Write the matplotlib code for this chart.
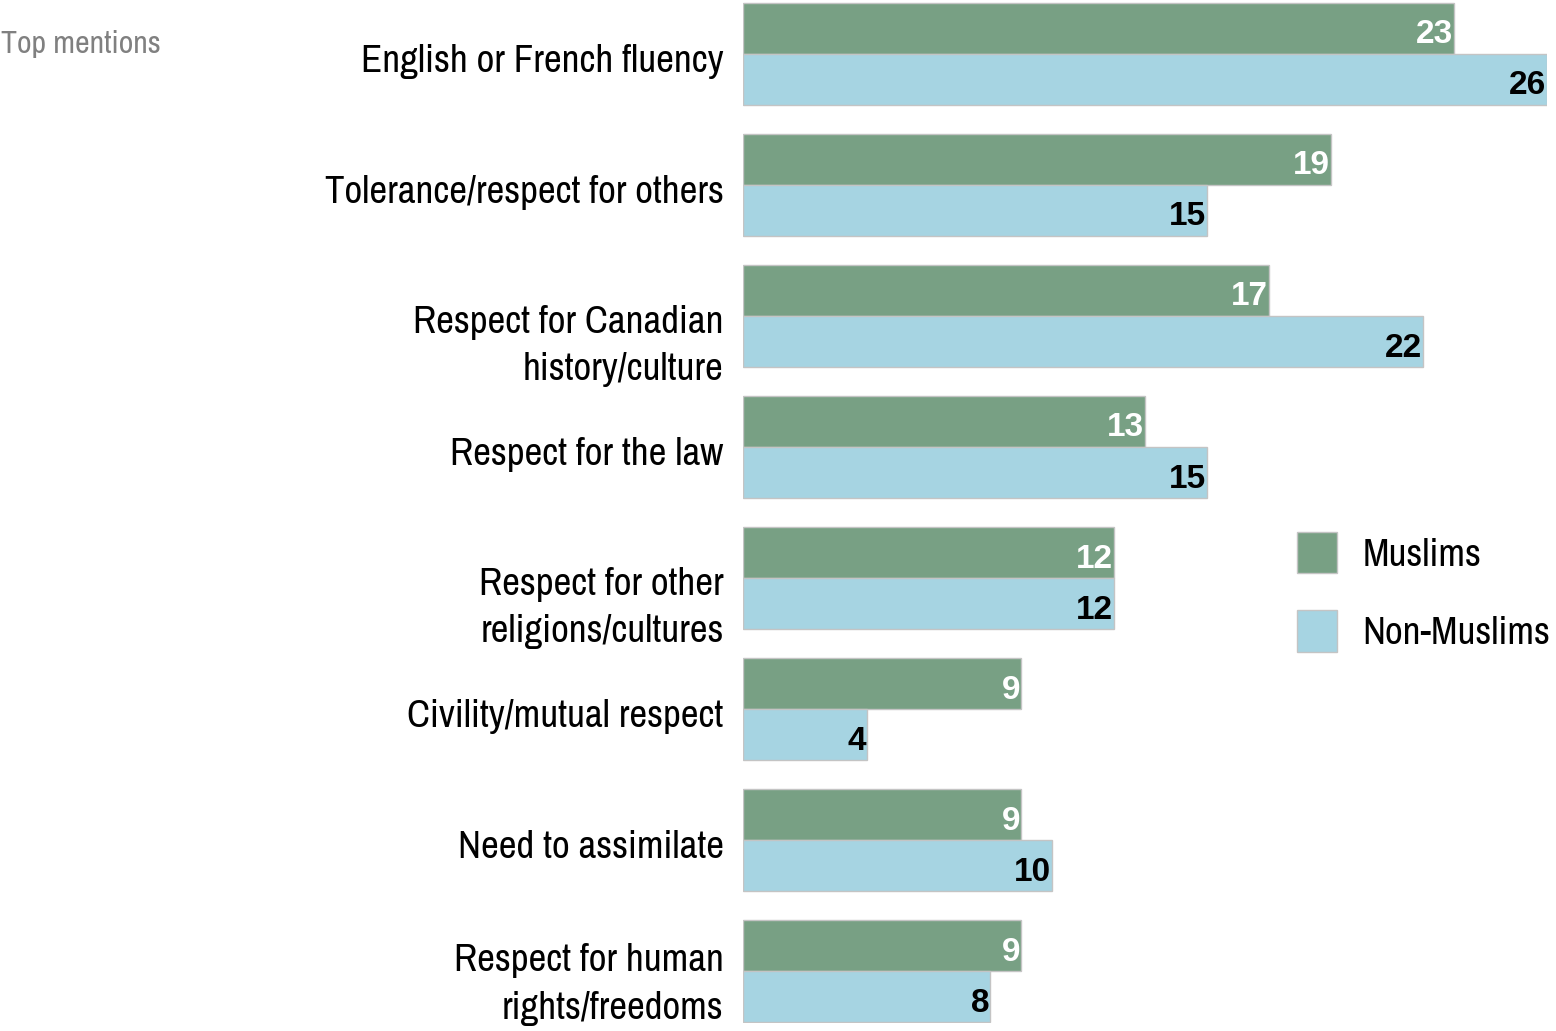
import matplotlib
matplotlib.use("Agg")
import matplotlib.pyplot as plt
import numpy as np

plt.rcParams['font.family'] = ['Archivo Narrow', 'Liberation Sans', 'DejaVu Sans']

categories = [
    "English or French fluency",
    "Tolerance/respect for others",
    "Respect for Canadian\nhistory/culture",
    "Respect for the law",
    "Respect for other\nreligions/cultures",
    "Civility/mutual respect",
    "Need to assimilate",
    "Respect for human\nrights/freedoms",
]
muslims = [23, 19, 17, 13, 12, 9, 9, 9]
non_muslims = [26, 15, 22, 15, 12, 4, 10, 8]

green = "#78a084"
blue = "#a6d4e2"
edge = "#c4c4c4"

fig = plt.figure(figsize=(15.56, 10.31), dpi=100)
ax = fig.add_axes([743 / 1556, 8 / 1031, 804 / 1556, 1021 / 1031])

y = np.arange(len(categories))
h = 0.39
ax.barh(y - h / 2, muslims, height=h, color=green, edgecolor=edge, linewidth=1, label="Muslims")
ax.barh(y + h / 2, non_muslims, height=h, color=blue, edgecolor=edge, linewidth=1, label="Non-Muslims")

# value labels inside the bar ends (bold face needs a family that has one)
val_font = dict(family=['Liberation Sans', 'DejaVu Sans'], fontsize=24, fontweight='bold')
for i in range(len(categories)):
    ax.text(muslims[i] - 0.03, y[i] - h / 2 + 0.05, str(muslims[i]), ha='right', va='center',
            color='white', **val_font)
    ax.text(non_muslims[i] - 0.03, y[i] + h / 2 + 0.05, str(non_muslims[i]), ha='right', va='center',
            color='black', **val_font)

ax.set_xlim(0, 26)
ax.set_ylim(len(categories) - 1 + h + 0.005, -h - 0.005)

# two-line labels sit lower than the group centre (the last one less so)
label_shift = [0.03, 0.03, 0.155, 0.03, 0.155, 0.03, 0.03, 0.025]
ax.set_yticks(y + np.array(label_shift))
ax.set_yticklabels(categories, fontsize=28, ha='right', multialignment='right', linespacing=1.45)
ax.tick_params(axis='y', length=0, pad=14)
ax.set_xticks([])
for s in ax.spines.values():
    s.set_visible(False)

fig.text(1 / 1556, 1 - 44 / 1031, "Top mentions", fontsize=23, color="#808080", va='center', ha='left')

leg = ax.legend(loc='upper left', bbox_to_anchor=(1297 / 1556, 1 - 532 / 1031),
                bbox_transform=fig.transFigure, frameon=False, fontsize=28,
                handlelength=1.03, handleheight=1.26, handletextpad=0.65,
                labelspacing=0.95, borderpad=0, borderaxespad=0)

fig.savefig("out.png", dpi=100)
